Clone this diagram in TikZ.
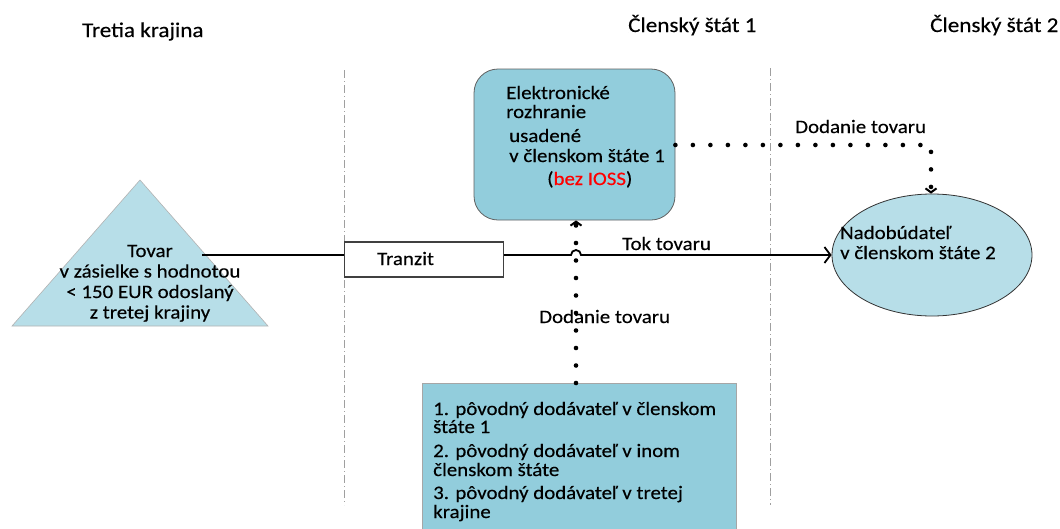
\documentclass[tikz,border=0pt]{standalone}
\usepackage{fontspec}
\setmainfont{Carlito}[FakeStretch=1.1,FakeBold=0.3]
\usetikzlibrary{arrows.meta,shapes.geometric}
\definecolor{aqua}{HTML}{92CDDC}
\definecolor{aqualt}{HTML}{B7DEE8}
\definecolor{edgegray}{HTML}{606060}
\begin{document}
\begin{tikzpicture}[x=1pt,y=-1pt,
  font=\fontsize{19}{21}\selectfont,
  lbl/.style={inner sep=0pt, anchor=base west},
  clbl/.style={inner sep=0pt, anchor=base},
  head/.style={inner sep=0pt, anchor=base west, font=\fontsize{21}{23}\selectfont},
  sepline/.style={draw=gray!75, line width=0.8pt, dash pattern=on 8pt off 3pt on 1pt off 3pt},
  dotline/.style={line width=4.6pt, line cap=round, dash pattern=on 0pt off 17.5pt},
  flow/.style={line width=1.8pt},
  dottip/.style={line width=2pt, -{Straight Barb[length=4pt,width=11pt]}},
  flowtip/.style={-{Straight Barb[length=6pt,width=16pt,line width=1.8pt]}}
]
\useasboundingbox (0,0) rectangle (1060,528);

% headings
\node[head] (h0) at (82,37) {Tretia krajina};
\node[head] (h1) at (628,32) {Členský štát 1};
\node[head] (h2) at (930,32) {Členský štát 2};

% separators
\coordinate (s1a) at (344,70);  \coordinate (s1b) at (344,505);
\coordinate (s2a) at (770,68);  \coordinate (s2b) at (770,505);
\draw[sepline] (s1a) -- (s1b);
\draw[sepline] (s2a) -- (s2b);

% triangle
\draw[draw=gray!60, fill=aqualt, line width=0.6pt] (140,180) -- (268,326) -- (12,326) -- cycle;
\coordinate (tri) at (202,255);
\node[clbl] (t1) at (150,257) {Tovar};
\node[clbl] (t2) at (150,277.5) {v zásielke s hodnotou};
\node[clbl] (t3) at (150,298) {< 150 EUR odoslaný};
\node[clbl] (t4) at (150,318.5) {z tretej krajiny};

% electronic interface
\node[draw=edgegray, fill=aqua, rounded corners=24pt, minimum width=201pt, minimum height=151pt, inner sep=0pt, line width=0.8pt] (ei) at (574.5,144.5) {};
\node[lbl] (e1) at (506,99) {Elektronické};
\node[lbl] (e2) at (506,118) {rozhranie};
\node[lbl] (e3) at (509,142) {usadené};
\node[lbl] (e4) at (509,162) {v členskom štáte 1};
\node[lbl] (e5) at (547,185) {(\textcolor{red}{bez IOSS})};

% transit
\node[draw=black!75, fill=white, line width=1.2pt, minimum width=159pt, minimum height=35pt, inner sep=0pt] (tr) at (424,259.5) {};
\node[lbl] (trt) at (377,265) {Tranzit};

% acquirer
\node[ellipse, draw=black!80, fill=aqualt, minimum width=200pt, minimum height=122pt, inner sep=0pt, line width=0.8pt] (nb) at (932,255) {};
\node[lbl] (n1) at (840,239) {Nadobúdateľ};
\node[lbl] (n2) at (840,259) {v členskom štáte 2};

% suppliers box
\node[draw=gray!70, fill=aqua, minimum width=314pt, minimum height=150pt, anchor=north west, inner sep=0pt, line width=0.8pt] (bx) at (422,383) {};
\node[lbl] (b1) at (433,415) {1. pôvodný dodávateľ v členskom};
\node[lbl] (b2) at (433,433) {štáte 1};
\node[lbl] (b3) at (433,457) {2. pôvodný dodávateľ v inom};
\node[lbl] (b4) at (433,476) {členskom štáte};
\node[lbl] (b5) at (433,499) {3. pôvodný dodávateľ v tretej};
\node[lbl] (b6) at (433,518) {krajine};

% flow of goods
\coordinate (hop) at (571,255);
\draw[flow] (tri) -- (tr.west |- tri);
\draw[flow, flowtip] (tr.east |- tri) -- (hop) arc[start angle=180, end angle=360, radius=5] -- (nb.west |- tri);
\node[lbl] (tok) at (622,250) {Tok tovaru};

% supply: interface -> acquirer
\coordinate (corner) at (931,145);
\draw[dotline] (ei.east |- corner) -- (corner) -- (nb.north -| corner);
\draw[dottip] ([yshift=3pt]nb.north -| corner) -- (nb.north -| corner);
\node[lbl] (d1) at (795,133) {Dodanie tovaru};

% supply: suppliers -> interface
\coordinate (vx) at (576,0);
\draw[dotline] (bx.north -| vx) -- (ei.south -| vx);
\draw[dottip] ([yshift=-3pt]ei.south -| vx) -- (ei.south -| vx);
\node[lbl] (d2) at (539,323) {Dodanie tovaru};
\end{tikzpicture}
\end{document}
